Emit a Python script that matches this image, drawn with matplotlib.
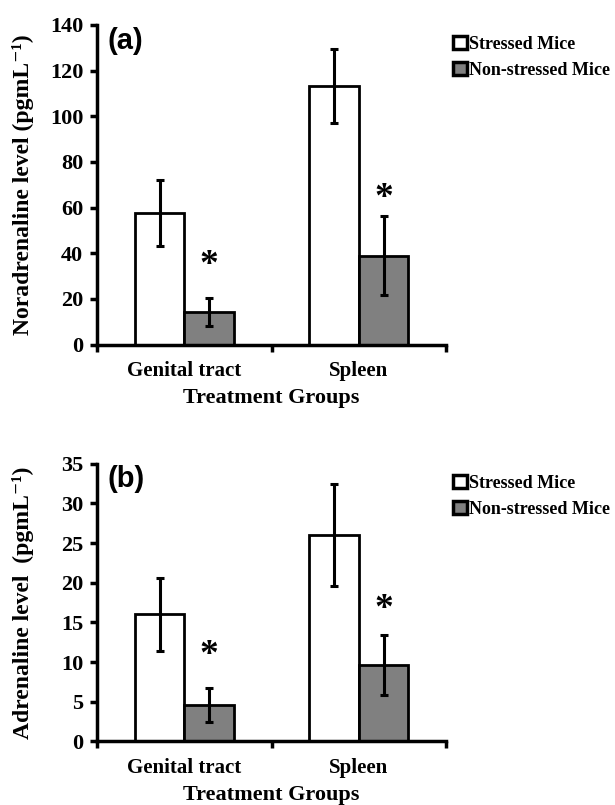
import matplotlib
matplotlib.use("Agg")
import matplotlib.pyplot as plt
import numpy as np

# Data
groups = ["Genital tract", "Spleen"]
series = ["Stressed Mice", "Non-stressed Mice"]

nor_stressed = [57.6, 113.2]
nor_stressed_err = [14.6, 16.3]
nor_non = [14.3, 38.9]
nor_non_err = [6.1, 17.2]
nor_star = [34.5, 64.0]

adr_stressed = [16.0, 26.0]
adr_stressed_err = [4.6, 6.4]
adr_non = [4.6, 9.6]
adr_non_err = [2.1, 3.8]
adr_star = [10.8, 16.6]

serif = ["Liberation Serif", "DejaVu Serif"]
plt.rcParams["font.family"] = serif
plt.rcParams["font.weight"] = "bold"

fig = plt.figure(figsize=(6.15, 8.05), dpi=100)
ax1 = fig.add_axes([0.158, 0.572, 0.567, 0.397])
ax2 = fig.add_axes([0.158, 0.079, 0.567, 0.345])

x = np.array([0.5, 1.5])
w = 0.285


def panel(ax, s, se, n, ne, star, ymax, step, ylabel, tag):
    ax.bar(x - w / 2, s, w, color="white", edgecolor="black", linewidth=2, label=series[0])
    ax.bar(x + w / 2, n, w, color="#808080", edgecolor="black", linewidth=2, label=series[1])
    ax.errorbar(x - w / 2, s, yerr=se, fmt="none", ecolor="black", elinewidth=2.2,
                capsize=3, capthick=2.2)
    ax.errorbar(x + w / 2, n, yerr=ne, fmt="none", ecolor="black", elinewidth=2.2,
                capsize=3, capthick=2.2)
    for xi, yi in zip(x + w / 2, star):
        ax.text(xi, yi, "*", ha="center", va="center", fontsize=27, fontweight="bold")
    ax.set_xlim(0, 2)
    ax.set_ylim(0, ymax)
    ax.set_yticks(np.arange(0, ymax + 1, step))
    ax.set_xticks([0, 1, 2])
    ax.set_xticklabels([])
    ax.set_xticks(x, minor=True)
    ax.set_xticklabels(groups, minor=True, fontsize=15, fontweight="bold")
    ax.tick_params(axis="x", which="minor", length=0, pad=12)
    ax.tick_params(axis="x", which="major", direction="out", length=5, width=2.5)
    ax.tick_params(axis="y", direction="out", length=5, width=2.5, labelsize=16, pad=5)
    for lab in ax.get_yticklabels():
        lab.set_fontweight("bold")
    for sp in ["top", "right"]:
        ax.spines[sp].set_visible(False)
    for sp in ["left", "bottom"]:
        ax.spines[sp].set_linewidth(2.5)
    ax.set_ylabel(ylabel, fontsize=17, fontweight="bold")
    ax.yaxis.set_label_coords(-0.18, 0.5)
    ax.set_xlabel("Treatment Groups", fontsize=16, fontweight="bold", labelpad=5)
    ax.text(0.03, 0.995, tag, transform=ax.transAxes, ha="left", va="top",
            fontsize=21, fontweight="bold", family="Liberation Sans")
    leg = ax.legend(loc="upper left", bbox_to_anchor=(0.99, 1.0), frameon=False,
                    prop={"family": serif, "weight": "bold", "size": 13},
                    handlelength=0.75, handleheight=0.75, handletextpad=0.1,
                    labelspacing=0.5, borderaxespad=0.2)
    for h in leg.legend_handles:
        h.set_linewidth(2.5)


panel(ax1, nor_stressed, nor_stressed_err, nor_non, nor_non_err, nor_star,
      140, 20, "Noradrenaline level (pgmL\u207b\u00b9)", "(a)")
panel(ax2, adr_stressed, adr_stressed_err, adr_non, adr_non_err, adr_star,
      35, 5, "Adrenaline level  (pgmL\u207b\u00b9)", "(b)")

fig.savefig("out.png", dpi=100)
